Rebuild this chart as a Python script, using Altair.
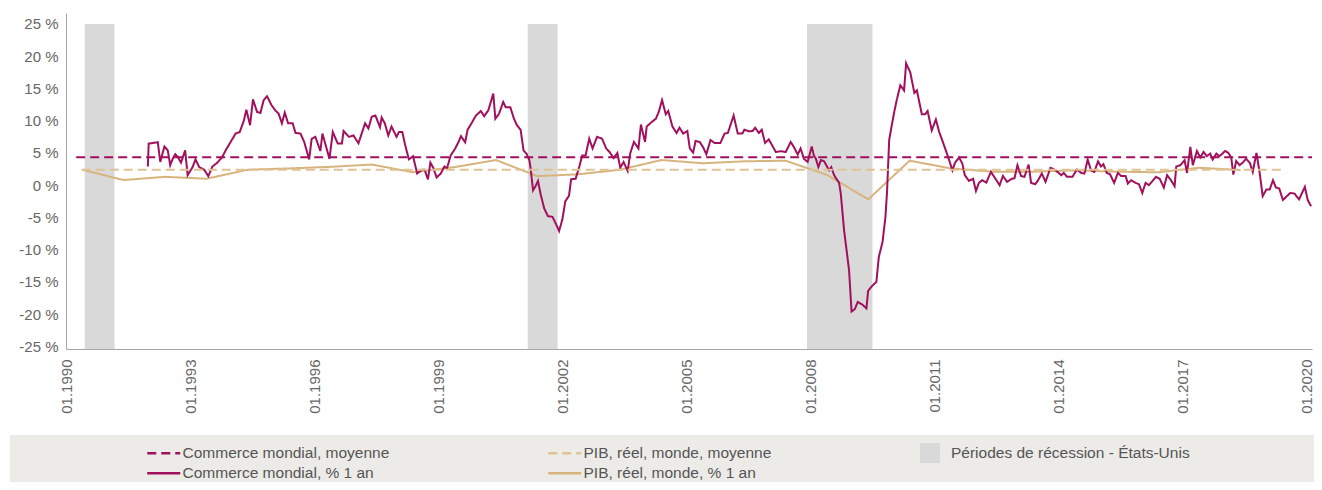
import altair as alt
import pandas as pd

# ---------------- series names ----------------
S_TM = "Commerce mondial, moyenne"
S_GM = "PIB, réel, monde, moyenne"
S_T = "Commerce mondial, % 1 an"
S_G = "PIB, réel, monde, % 1 an"
S_R = "Périodes de récession - États-Unis"

series_order = [S_TM, S_GM, S_T, S_G]
series_colors = ["#a0105c", "#dfc393", "#a0105c", "#d7b47e"]
series_dash = [[9, 5], [9, 5], [1, 0], [1, 0]]

# ---------------- world trade, % 1 yr (time in decimal years) ----------------
trade_t_a = [1991.98, 1992.00, 1992.22, 1992.28, 1992.38, 1992.46, 1992.52, 1992.58, 1992.64, 1992.70,
             1992.78, 1992.88, 1992.94, 1993.06, 1993.13, 1993.22, 1993.34, 1993.44, 1993.54, 1993.66,
             1993.77, 1993.86, 1993.96, 1994.10, 1994.20, 1994.30, 1994.36, 1994.45, 1994.52, 1994.62,
             1994.70, 1994.78, 1994.86, 1994.97, 1995.06, 1995.14, 1995.22, 1995.29, 1995.37, 1995.48,
             1995.55, 1995.67, 1995.76, 1995.88, 1995.94, 1996.03, 1996.15, 1996.20, 1996.37, 1996.45,
             1996.57, 1996.67, 1996.71, 1996.84, 1996.95, 1997.07, 1997.23, 1997.31, 1997.39, 1997.48,
             1997.59, 1997.63, 1997.71, 1997.79, 1997.87, 1997.99, 1998.05, 1998.13, 1998.20, 1998.29,
             1998.39, 1998.49, 1998.61, 1998.67, 1998.75, 1998.81, 1998.88, 1998.96, 1999.06, 1999.15,
             1999.21, 1999.30, 1999.41, 1999.49, 1999.55, 1999.65, 1999.71, 1999.81, 1999.91]
trade_v_a = [2.9, 6.45, 6.66, 3.6, 6.0, 5.4, 3.1, 4.1, 4.8, 4.4,
             3.5, 5.4, 1.55, 2.8, 4.0, 2.8, 2.4, 1.4, 2.9, 3.5,
             4.3, 5.4, 6.5, 8.0, 8.25, 10.0, 11.7, 9.3, 13.3, 11.35,
             11.2, 13.2, 13.8, 12.4, 11.6, 11.1, 9.6, 11.25, 9.6, 9.6,
             8.1, 8.0, 6.7, 4.0, 7.2, 7.5, 5.3, 8.0, 4.1, 8.25,
             6.45, 6.45, 8.4, 7.5, 7.7, 6.5, 9.6, 8.8, 10.6, 10.8,
             9.0, 10.5, 9.55, 7.7, 9.1, 7.5, 8.25, 8.25, 6.2, 4.0,
             4.5, 1.8, 2.4, 2.4, 0.9, 3.5, 2.7, 1.2, 1.8, 2.9,
             2.6, 4.6, 5.7, 6.7, 7.6, 6.65, 8.6, 9.65, 10.8]

trade_t_b = [2000.03, 2000.11, 2000.21, 2000.33, 2000.38, 2000.47, 2000.57, 2000.63, 2000.74, 2000.83,
             2000.90, 2000.99, 2001.06, 2001.13, 2001.20, 2001.23, 2001.29, 2001.35, 2001.41, 2001.47,
             2001.56, 2001.65, 2001.76, 2001.83, 2001.92, 2002.00, 2002.07, 2002.16, 2002.21, 2002.32,
             2002.41, 2002.48, 2002.56, 2002.65, 2002.73, 2002.84, 2002.96, 2003.06, 2003.14, 2003.24,
             2003.33, 2003.40, 2003.48, 2003.58, 2003.64, 2003.73, 2003.84, 2003.90, 2004.00, 2004.04,
             2004.16, 2004.26, 2004.33, 2004.41, 2004.50, 2004.56, 2004.66, 2004.76, 2004.83, 2004.92,
             2005.02, 2005.08, 2005.16, 2005.22, 2005.32, 2005.40, 2005.48, 2005.58, 2005.68, 2005.82,
             2005.92, 2006.00, 2006.14, 2006.24, 2006.35, 2006.40, 2006.51, 2006.60, 2006.66, 2006.75,
             2006.82, 2006.90, 2006.99, 2007.07, 2007.16, 2007.28, 2007.40, 2007.52, 2007.60, 2007.69,
             2007.76, 2007.84, 2007.93, 2008.03, 2008.08, 2008.13, 2008.19, 2008.25, 2008.33, 2008.38,
             2008.45, 2008.50, 2008.57, 2008.69, 2008.73, 2008.81, 2008.93, 2008.99, 2009.07, 2009.14,
             2009.25, 2009.35, 2009.39, 2009.49, 2009.59, 2009.65, 2009.74, 2009.81, 2009.85, 2009.90,
             2009.97]
trade_v_b = [11.5, 10.7, 11.6, 14.2, 10.3, 11.1, 12.9, 12.1, 12.1, 10.3,
             9.3, 8.6, 5.4, 4.9, 3.9, 2.7, -0.8, -0.15, 0.67, -1.3,
             -3.6, -4.8, -4.9, -5.8, -7.1, -5.3, -2.5, -1.65, 0.9, 1.0,
             2.9, 4.6, 4.6, 7.2, 5.7, 7.5, 7.2, 5.7, 5.15, 4.2,
             5.0, 2.7, 3.6, 2.2, 4.9, 6.7, 5.7, 9.4, 6.7, 9.1,
             9.8, 10.3, 11.35, 13.2, 11.0, 11.5, 9.1, 8.1, 8.9, 8.0,
             8.4, 5.7, 5.06, 6.86, 6.7, 5.9, 4.8, 7.0, 6.55, 6.55,
             8.0, 8.1, 10.8, 8.0, 8.0, 8.6, 8.35, 8.4, 8.9, 8.1,
             8.6, 6.55, 7.1, 6.2, 5.15, 5.26, 5.15, 6.7, 5.9, 4.75,
             5.7, 4.1, 3.6, 6.0, 4.6, 4.1, 2.8, 3.9, 3.7, 3.1,
             2.3, 2.8, 1.55, 0.36, -1.3, -7.0, -13.2, -19.6, -19.2, -18.1,
             -18.5, -19.1, -16.4, -15.6, -15.0, -11.1, -8.8, -4.9, -0.8, 7.0,
             9.55]

trade_t_c = [2010.03, 2010.09, 2010.17, 2010.26, 2010.31, 2010.41, 2010.51, 2010.57, 2010.69, 2010.77,
             2010.83, 2010.93, 2011.03, 2011.11, 2011.19, 2011.27, 2011.35, 2011.43, 2011.49, 2011.59,
             2011.67, 2011.73, 2011.83, 2011.93, 2012.00, 2012.07, 2012.15, 2012.25, 2012.36, 2012.45,
             2012.57, 2012.65, 2012.75, 2012.87, 2012.93, 2013.00, 2013.09, 2013.17, 2013.27, 2013.33,
             2013.43, 2013.49, 2013.59, 2013.68, 2013.80, 2013.89, 2013.97, 2014.06, 2014.12, 2014.20,
             2014.33, 2014.44, 2014.54, 2014.62, 2014.70, 2014.78, 2014.86, 2014.95, 2015.02, 2015.08,
             2015.16, 2015.24, 2015.34, 2015.43, 2015.51, 2015.62, 2015.67, 2015.75, 2015.86, 2015.94,
             2016.02, 2016.10, 2016.18, 2016.27, 2016.35, 2016.44, 2016.54, 2016.62, 2016.70, 2016.80,
             2016.84, 2016.94, 2017.04, 2017.10, 2017.18, 2017.24, 2017.34, 2017.42, 2017.50, 2017.58,
             2017.66, 2017.72, 2017.81, 2017.88, 2017.94, 2018.02, 2018.10, 2018.17, 2018.22, 2018.29,
             2018.37, 2018.44, 2018.53, 2018.62, 2018.69, 2018.78, 2018.86, 2018.93, 2019.02, 2019.10,
             2019.18, 2019.25, 2019.33, 2019.42, 2019.50, 2019.60, 2019.70, 2019.81, 2019.95, 2020.02,
             2020.10]
trade_v_c = [11.6, 13.4, 15.5, 14.7, 18.9, 17.5, 14.3, 14.7, 11.0, 11.0,
             11.5, 8.5, 10.2, 8.25, 6.86, 5.4, 3.9, 2.3, 3.45, 4.3,
             3.36, 1.55, 0.67, 1.0, -0.9, 0.36, 0.77, 0.41, 2.06, 1.2,
             0.0, 1.44, 0.52, 1.0, 1.1, 3.1, 1.4, 1.3, 3.2, 0.36,
             0.15, 0.67, 1.8, 0.52, 2.7, 2.43, 2.06, 1.55, 1.9, 1.3,
             1.3, 2.43, 1.9, 1.8, 3.97, 2.3, 2.06, 3.7, 2.9, 3.25,
             1.9, 1.7, 0.36, 1.9, 1.44, 1.4, 0.26, 0.77, 0.36, 0.15,
             -1.2, 0.36, 0.0, 0.67, 1.3, 1.0, -0.36, 1.55, 0.88, -0.15,
             2.9, 3.1, 3.87, 1.9, 5.93, 3.1, 5.3, 4.3, 5.15, 4.5,
             4.9, 3.97, 4.9, 4.5, 4.8, 5.3, 5.0, 4.3, 1.65, 3.76,
             3.1, 3.45, 4.1, 3.45, 2.06, 5.0, 1.8, -1.7, -0.67, -0.67,
             0.77, -0.36, -0.5, -2.3, -1.8, -1.2, -1.3, -2.2, -0.26, -2.3,
             -3.25]

# ---------------- world real GDP, % 1 yr (annual) ----------------
gdp_years = list(range(1990, 2019))
gdp_values = [2.4, 0.8, 1.3, 1.0, 2.4, 2.6, 2.85, 3.2, 2.0, 2.8,
              3.9, 1.4, 1.7, 2.4, 3.9, 3.4, 3.7, 3.8, 1.6, -2.2,
              3.8, 2.6, 2.1, 2.1, 2.3, 2.1, 2.0, 2.7, 2.35]

# ---------------- averages ----------------
trade_mean = 4.33
trade_mean_span = ["1990-04-01", "2020-02-15"]
gdp_mean = 2.4
gdp_mean_span = ["1990-05-20", "2019-06-20"]

# ---------------- US recessions ----------------
rec_start = ["1990-06-15", "2001-03-01", "2007-12-01"]
rec_end = ["1991-03-05", "2001-11-20", "2009-07-01"]
rec_top = 25
y_min, y_max = -25.4, 26.7


def dec_to_ts(t):
    y = int(t)
    a = pd.Timestamp(year=y, month=1, day=1)
    b = pd.Timestamp(year=y + 1, month=1, day=1)
    return a + (b - a) * (t - y)


rows = []
for ts, vs in [(trade_t_a, trade_v_a), (trade_t_b, trade_v_b), (trade_t_c, trade_v_c)]:
    for t, v in zip(ts, vs):
        rows.append({"date": dec_to_ts(t), "value": v, "series": S_T})
for yr, v in zip(gdp_years, gdp_values):
    rows.append({"date": pd.Timestamp(f"{yr}-05-25"), "value": v, "series": S_G})
for d in trade_mean_span:
    rows.append({"date": pd.Timestamp(d), "value": trade_mean, "series": S_TM})
for d in gdp_mean_span:
    rows.append({"date": pd.Timestamp(d), "value": gdp_mean, "series": S_GM})
df = pd.DataFrame(rows)
df["date"] = df["date"].dt.strftime("%Y-%m-%dT%H:%M:%S")

df_rec = pd.DataFrame({
    "start": rec_start,
    "end": rec_end,
    "top": [rec_top] * len(rec_start),
    "bottom": [y_min] * len(rec_start),
    "label": [S_R] * len(rec_start),
})

FONT = "Liberation Sans"
PLOT_W, PLOT_H = 1246, 336

x_scale = alt.Scale(domain=[alt.DateTime(year=1990, month=1, date=1),
                            alt.DateTime(year=2020, month=2, date=15)])
x_axis = alt.Axis(
    values=[alt.DateTime(year=y, month=1, date=1) for y in range(1990, 2021, 3)],
    format="%m.%Y", labelAngle=-90, labelAlign="right", labelBaseline="middle",
    labelPadding=10, ticks=False, grid=False,
    title=None, labelFontSize=15, labelColor="#666666", domainColor="#a6a6a6",
    labelFont=FONT, labelOverlap=False, labelFlush=False,
)
y_scale = alt.Scale(domain=[y_min, y_max], nice=False, zero=False)
y_axis = alt.Axis(
    values=list(range(-25, 30, 5)), labelExpr="datum.value + ' %'",
    ticks=False, grid=False, title=None, labelPadding=8, labelFontSize=15,
    labelColor="#666666", domainColor="#a6a6a6", labelFont=FONT, labelOverlap=False,
)
x_enc = alt.X("date:T", scale=x_scale, axis=x_axis)
y_enc = alt.Y("value:Q", scale=y_scale, axis=y_axis)

# legend symbol: a horizontal stroke three times as long as the symbol box
LINE_SYMBOL = "M-3,0H3"
leg_lines = alt.Legend(
    orient="none", legendX=90, legendY=432, direction="horizontal", columns=2,
    title=None, symbolType=LINE_SYMBOL, symbolSize=121, symbolStrokeWidth=2.5,
    labelFontSize=15.5, labelColor="#555555", labelFont=FONT, labelOffset=11,
    columnPadding=153, rowPadding=3.5, padding=0, labelLimit=400,
)
color_enc = alt.Color("series:N", scale=alt.Scale(domain=series_order, range=series_colors),
                      legend=leg_lines)
dash_enc = alt.StrokeDash("series:N", scale=alt.Scale(domain=series_order, range=series_dash),
                          legend=leg_lines)

base = alt.Chart(df)

background = alt.Chart(pd.DataFrame({"k": [0]})).mark_rect(color="#ecebe7").encode(
    x=alt.value(-56), x2=alt.value(PLOT_W + 2), y=alt.value(422), y2=alt.value(469)
)

recessions = alt.Chart(df_rec).mark_rect().encode(
    x=alt.X("start:T", scale=x_scale, axis=x_axis),
    x2="end:T",
    y=alt.Y("top:Q", scale=y_scale, axis=y_axis),
    y2="bottom:Q",
    fill=alt.Fill("label:N", scale=alt.Scale(domain=[S_R], range=["#d9d9d9"]),
                  legend=alt.Legend(orient="none", legendX=854, legendY=430, title=None,
                                    symbolType="square", symbolSize=400, symbolStrokeWidth=0,
                                    labelFontSize=15.5, labelColor="#555555", labelFont=FONT,
                                    labelOffset=11, padding=0, labelLimit=400)),
)

gdp_line = base.transform_filter(alt.datum.series == S_G).mark_line(strokeWidth=2).encode(
    x=x_enc, y=y_enc, color=color_enc, strokeDash=dash_enc)
trade_line = base.transform_filter(alt.datum.series == S_T).mark_line(strokeWidth=2).encode(
    x=x_enc, y=y_enc, color=color_enc, strokeDash=dash_enc)
mean_lines = base.transform_filter(
    (alt.datum.series == S_TM) | (alt.datum.series == S_GM)
).mark_line(strokeWidth=2).encode(
    x=x_enc, y=y_enc, color=color_enc, strokeDash=dash_enc, detail="series:N")

chart = alt.layer(background, recessions, gdp_line, trade_line, mean_lines).properties(
    width=PLOT_W, height=PLOT_H,
    autosize=alt.AutoSizeParams(type="none"),
    padding={"left": 58, "top": 5, "right": 2, "bottom": 133},
).configure(font=FONT).configure_view(stroke=None).configure_axis(labelOverlap=False)

chart.save("out.html", embed_options={"renderer": "svg", "actions": False})
